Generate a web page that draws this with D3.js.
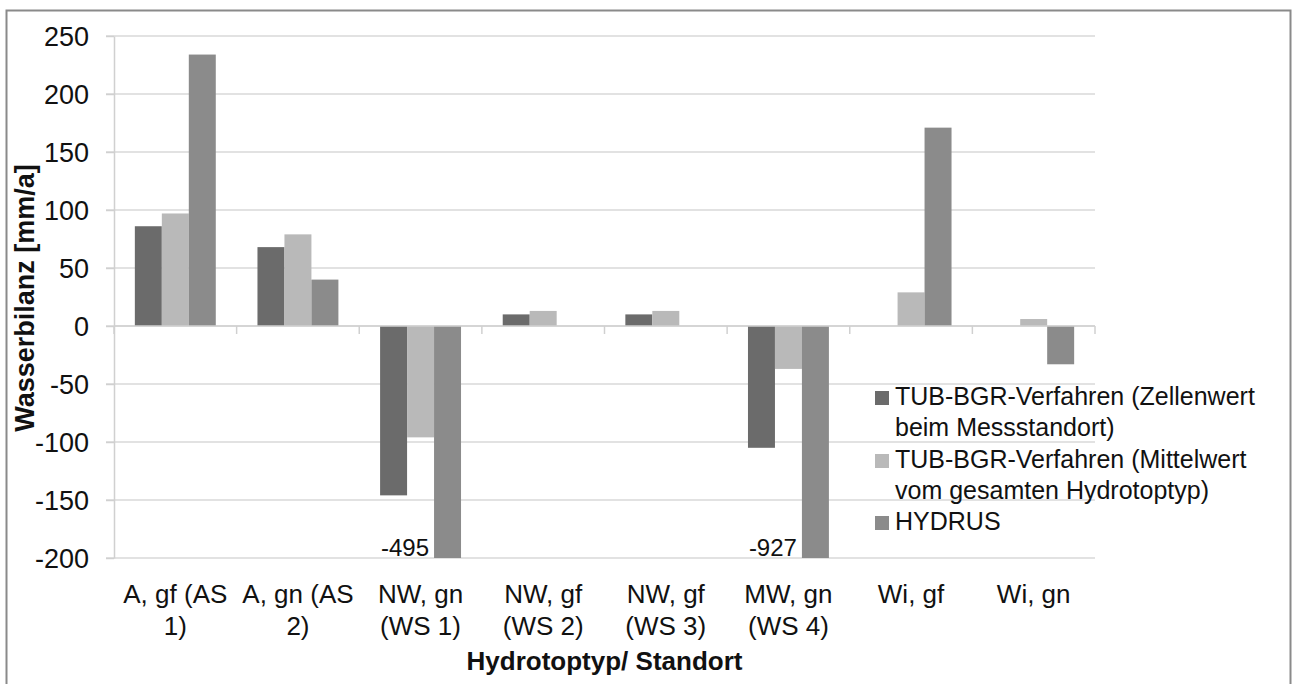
<!DOCTYPE html>
<meta charset="utf-8">
<style>
    body { margin: 0; background: #fff; }
    svg { font-family: "Liberation Sans", Arial, sans-serif; }
    .grid line { stroke: #d9d9d9; stroke-width: 1.5; }
    .axis path, .axis line { stroke: #d0d0d0; stroke-width: 1.5; fill: none; }
</style>
<body>
<script src="https://cdn.jsdelivr.net/npm/d3@7"></script>
<script>
    // categories (two-line labels as in the original)
    const categories = ["A, gf (AS 1)", "A, gn (AS 2)", "NW, gn (WS 1)", "NW, gf (WS 2)",
        "NW, gf (WS 3)", "MW, gn (WS 4)", "Wi, gf", "Wi, gn"];
    const catLines = [["A, gf (AS", "1)"], ["A, gn (AS", "2)"], ["NW, gn", "(WS 1)"], ["NW, gf", "(WS 2)"],
        ["NW, gf", "(WS 3)"], ["MW, gn", "(WS 4)"], ["Wi, gf"], ["Wi, gn"]];

    const seriesNames = ["TUB-BGR-Verfahren (Zellenwert beim Messstandort)",
        "TUB-BGR-Verfahren (Mittelwert vom gesamten Hydrotoptyp)",
        "HYDRUS"];
    const legendLines = [["TUB-BGR-Verfahren (Zellenwert", "beim Messstandort)"],
        ["TUB-BGR-Verfahren (Mittelwert", "vom gesamten Hydrotoptyp)"],
        ["HYDRUS"]];
    const seriesColors = ["#6b6b6b", "#b9b9b9", "#8b8b8b"];

    const zellenwert = [86, 68, -146, 10, 10, -105, null, null];
    const mittelwert = [97, 79, -96, 13, 13, -37, 29, 6];
    const hydrus = [234, 40, -495, null, null, -927, 171, -33];

    const yTicks = [-200, -150, -100, -50, 0, 50, 100, 150, 200, 250];

    const W = 1292, H = 684;
    const plot = {left: 114, right: 1095, top: 36, bottom: 558};

    const svg = d3.select("body").append("svg")
        .attr("width", W).attr("height", H);

    // outer frame
    svg.append("rect")
        .attr("x", 6.5).attr("y", 10.5)
        .attr("width", 1284).attr("height", 700)
        .attr("fill", "none").attr("stroke", "#8a8a8a").attr("stroke-width", 2);

    const x0 = d3.scaleBand().domain(categories).range([plot.left, plot.right]);
    const bw = x0.bandwidth();
    const x1 = d3.scaleBand().domain(seriesNames).range([bw * 0.17, bw * 0.83]);
    const y = d3.scaleLinear().domain([-200, 250]).range([plot.bottom, plot.top]);

    // gridlines
    svg.append("g").attr("class", "grid")
        .selectAll("line").data(yTicks).enter().append("line")
        .attr("x1", plot.left - 8).attr("x2", plot.right)
        .attr("y1", d => y(d)).attr("y2", d => y(d));

    // y axis
    const yAxis = svg.append("g").attr("class", "axis")
        .attr("transform", "translate(" + plot.left + ",0)")
        .call(d3.axisLeft(y).tickValues(yTicks).tickFormat(d => String(d))
            .tickSize(8).tickSizeOuter(0));
    yAxis.selectAll("text")
        .attr("x", -25).attr("dy", "0.36em")
        .style("font-size", "27px").style("fill", "#111");

    // data
    const series = [zellenwert, mittelwert, hydrus];
    const rows = [];
    categories.forEach((c, i) => {
        seriesNames.forEach((s, j) => {
            if (series[j][i] !== null) rows.push({cat: c, ser: s, j: j, value: series[j][i]});
        });
    });

    svg.append("clipPath").attr("id", "clip")
        .append("rect")
        .attr("x", plot.left).attr("y", plot.top)
        .attr("width", plot.right - plot.left).attr("height", plot.bottom - plot.top);

    svg.append("g").attr("clip-path", "url(#clip)")
        .selectAll("rect").data(rows).enter().append("rect")
        .attr("x", d => x0(d.cat) + x1(d.ser))
        .attr("width", x1.bandwidth())
        .attr("y", d => y(Math.max(0, d.value)))
        .attr("height", d => Math.abs(y(d.value) - y(0)))
        .attr("fill", d => seriesColors[d.j]);

    // x axis at zero, ticks at category boundaries
    const xAxisG = svg.append("g").attr("class", "axis");
    xAxisG.append("line")
        .attr("x1", plot.left).attr("x2", plot.right)
        .attr("y1", y(0)).attr("y2", y(0));
    xAxisG.selectAll("line.tick").data(d3.range(categories.length + 1)).enter().append("line")
        .attr("class", "tick")
        .attr("x1", i => plot.left + i * bw).attr("x2", i => plot.left + i * bw)
        .attr("y1", y(0)).attr("y2", y(0) + 8);

    // labels for the clipped bars
    svg.append("g").selectAll("text")
        .data(rows.filter(d => d.value < -200)).enter().append("text")
        .attr("x", d => x0(d.cat) + x1(d.ser) - 5)
        .attr("y", plot.bottom - 2)
        .attr("text-anchor", "end")
        .style("font-size", "24px").style("fill", "#111")
        .text(d => d.value);

    // category labels
    const catG = svg.append("g").selectAll("text")
        .data(categories).enter().append("text")
        .attr("x", d => x0(d) + bw / 2)
        .attr("y", 603)
        .attr("text-anchor", "middle")
        .style("font-size", "26px").style("fill", "#111");
    catG.selectAll("tspan").data((d, i) => catLines[i]).enter().append("tspan")
        .attr("x", function () { return d3.select(this.parentNode).attr("x"); })
        .attr("dy", (d, i) => i === 0 ? 0 : 32)
        .text(d => d);

    // axis titles
    svg.append("text")
        .attr("x", (plot.left + plot.right) / 2).attr("y", 670)
        .attr("text-anchor", "middle")
        .style("font-size", "26px").style("font-weight", "bold").style("fill", "#111")
        .text("Hydrotoptyp/ Standort");

    svg.append("text")
        .attr("transform", "translate(34,298) rotate(-90)")
        .attr("text-anchor", "middle")
        .style("font-size", "27px").style("font-weight", "bold").style("fill", "#111")
        .text("Wasserbilanz [mm/a]");

    // legend
    const legend = svg.append("g").selectAll("g")
        .data(seriesNames).enter().append("g")
        .attr("transform", (d, i) => "translate(875," + [405, 468, 530][i] + ")");
    legend.append("rect")
        .attr("y", -14).attr("width", 14).attr("height", 14)
        .attr("fill", (d, i) => seriesColors[i]);
    legend.append("text")
        .attr("x", 20)
        .style("font-size", "25px").style("fill", "#111")
        .selectAll("tspan").data((d, i) => legendLines[i]).enter().append("tspan")
        .attr("x", 20).attr("dy", (d, i) => i === 0 ? 0 : 31)
        .text(d => d);
</script>
</body>
